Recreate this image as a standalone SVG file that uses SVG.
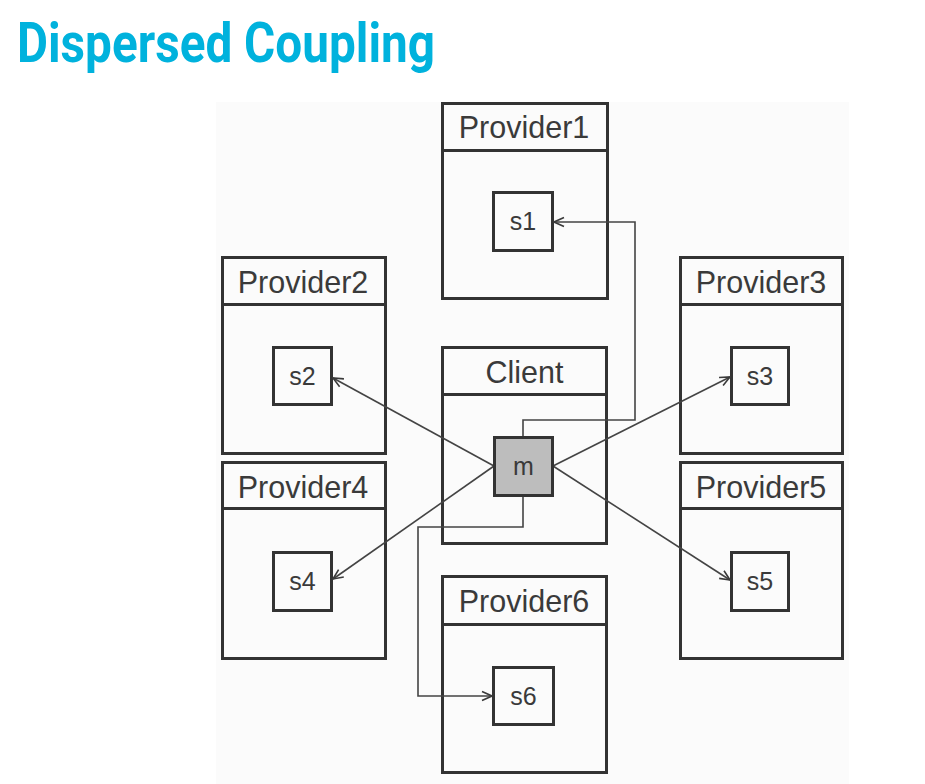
<svg xmlns="http://www.w3.org/2000/svg" width="925" height="784" viewBox="0 0 925 784">
<defs>
<marker id="arr" viewBox="0 0 12 12" refX="11" refY="6" markerWidth="12" markerHeight="12" markerUnits="userSpaceOnUse" orient="auto">
<path d="M1,1.5 L11,6 L1,10.5" fill="none" stroke="#3a3a3a" stroke-width="1.6"/>
</marker>
<style>
.box{fill:none;stroke:#333;stroke-width:3}
.hdr{font-family:"Liberation Sans",Arial,sans-serif;font-size:30.5px;fill:#3a3a3a;text-anchor:middle}
.lbl{font-family:"Liberation Sans",Arial,sans-serif;font-size:25px;fill:#3a3a3a;text-anchor:middle}
.con{fill:none;stroke:#444;stroke-width:1.6}
</style>
</defs>
<rect width="925" height="784" fill="#fff"/>
<rect x="216" y="102" width="633" height="682" fill="#fbfbfb"/>
<text x="17" y="62" font-family="Roboto,'Liberation Sans',sans-serif" font-weight="bold" font-size="56" fill="#00b2dd" textLength="418" lengthAdjust="spacingAndGlyphs">Dispersed Coupling</text>

<g id="provider1">
<rect class="box" x="442.5" y="103.5" width="165" height="195"/>
<line class="box" x1="442.5" y1="150.5" x2="607.5" y2="150.5"/>
<text class="hdr" x="524" y="138">Provider1</text>
<rect class="box" x="493.5" y="192.5" width="59" height="58"/>
<text class="lbl" x="523" y="230">s1</text>
</g>
<g id="provider2">
<rect class="box" x="222.5" y="257.5" width="163" height="196"/>
<line class="box" x1="222.5" y1="304.5" x2="385.5" y2="304.5"/>
<text class="hdr" x="303" y="293">Provider2</text>
<rect class="box" x="273.5" y="347.5" width="58" height="57"/>
<text class="lbl" x="302.5" y="385">s2</text>
</g>
<g id="provider3">
<rect class="box" x="680.5" y="257.5" width="162" height="196"/>
<line class="box" x1="680.5" y1="304.5" x2="842.5" y2="304.5"/>
<text class="hdr" x="761" y="293">Provider3</text>
<rect class="box" x="731.5" y="347.5" width="57" height="57"/>
<text class="lbl" x="760" y="385">s3</text>
</g>
<g id="provider4">
<rect class="box" x="222.5" y="462.5" width="163" height="196"/>
<line class="box" x1="222.5" y1="508.5" x2="385.5" y2="508.5"/>
<text class="hdr" x="303" y="498">Provider4</text>
<rect class="box" x="273.5" y="552.5" width="58" height="58"/>
<text class="lbl" x="302.5" y="590">s4</text>
</g>
<g id="provider5">
<rect class="box" x="680.5" y="462.5" width="162" height="196"/>
<line class="box" x1="680.5" y1="508.5" x2="842.5" y2="508.5"/>
<text class="hdr" x="761" y="498">Provider5</text>
<rect class="box" x="731.5" y="552.5" width="57" height="58"/>
<text class="lbl" x="760" y="590">s5</text>
</g>
<g id="provider6">
<rect class="box" x="442.5" y="576.5" width="164" height="196"/>
<line class="box" x1="442.5" y1="624.5" x2="606.5" y2="624.5"/>
<text class="hdr" x="524" y="612">Provider6</text>
<rect class="box" x="493.5" y="667.5" width="60" height="57"/>
<text class="lbl" x="523.5" y="705">s6</text>
</g>
<g id="client">
<rect class="box" x="442.5" y="347.5" width="164" height="196"/>
<line class="box" x1="442.5" y1="394.5" x2="606.5" y2="394.5"/>
<text class="hdr" x="524.5" y="383">Client</text>
</g>

<g id="connectors">
<polyline class="con" points="523,437 523,420 635,420 635,222 554,222" marker-end="url(#arr)"/>
<polyline class="con" points="523,496 523,527 418,527 418,696 492,696" marker-end="url(#arr)"/>
<line class="con" x1="494" y1="466" x2="333" y2="378" marker-end="url(#arr)"/>
<line class="con" x1="494" y1="466" x2="333" y2="579" marker-end="url(#arr)"/>
<line class="con" x1="553" y1="466" x2="730" y2="377" marker-end="url(#arr)"/>
<line class="con" x1="553" y1="466" x2="730" y2="580" marker-end="url(#arr)"/>
</g>

<g id="m">
<rect x="494.5" y="437.5" width="58" height="58" fill="#bdbdbd" stroke="#333" stroke-width="3"/>
<text class="lbl" x="523.5" y="475">m</text>
</g>
</svg>
